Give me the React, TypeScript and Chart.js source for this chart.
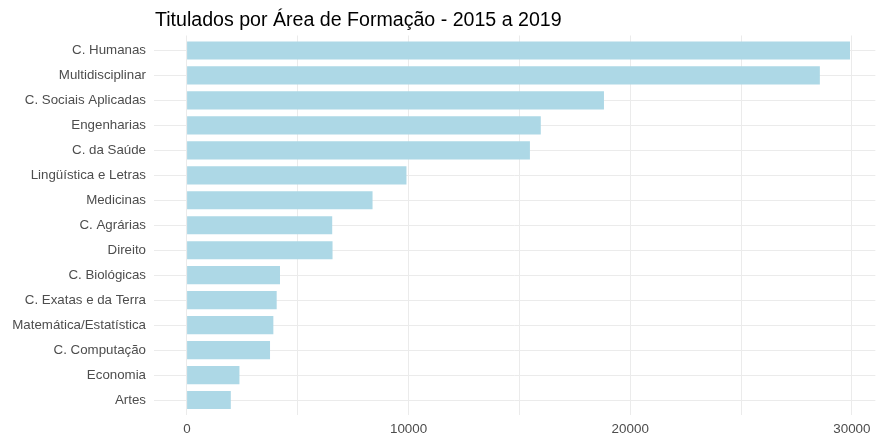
import React, { useEffect, useRef } from "react";
import { Chart, registerables } from "chart.js";

Chart.register(...registerables);

const TITLE = "Titulados por Área de Formação - 2015 a 2019";

const categories: string[] = [
  "C. Humanas",
  "Multidisciplinar",
  "C. Sociais Aplicadas",
  "Engenharias",
  "C. da Saúde",
  "Lingüística e Letras",
  "Medicinas",
  "C. Agrárias",
  "Direito",
  "C. Biológicas",
  "C. Exatas e da Terra",
  "Matemática/Estatística",
  "C. Computação",
  "Economia",
  "Artes",
];

const titulados: number[] = [
  29900, 28540, 18800, 15950, 15460, 9890, 8360, 6540, 6555, 4185, 4035, 3885,
  3735, 2355, 1965,
];

const xTickLabels: number[] = [0, 10000, 20000, 30000];

const FONT = "'Liberation Sans', Arial, sans-serif";

export default function App() {
  const ref = useRef<HTMLCanvasElement | null>(null);

  useEffect(() => {
    document.body.style.margin = "0";
    const canvas = ref.current;
    if (!canvas) return;

    const titlePlugin = {
      id: "ggTitle",
      afterDraw(chart: any) {
        const ctx = chart.ctx;
        ctx.save();
        ctx.font = `19.6px ${FONT}`;
        ctx.fillStyle = "#000000";
        ctx.textAlign = "left";
        ctx.textBaseline = "alphabetic";
        ctx.fillText(TITLE, chart.chartArea.left + 1, 26);
        ctx.restore();
      },
    };

    const chart = new Chart(canvas, {
      type: "bar",
      data: {
        datasets: [
          {
            label: "Titulados",
            data: titulados.map((v, i) => ({ x: v, y: i })),
            backgroundColor: "#ADD8E6",
            borderWidth: 0,
            barThickness: 17.5,
          },
        ],
      },
      options: {
        indexAxis: "y",
        animation: false,
        responsive: false,
        maintainAspectRatio: false,
        layout: { padding: { top: 35.5, right: 0, bottom: 0, left: 0 } },
        plugins: {
          legend: { display: false },
          title: { display: false },
          tooltip: { enabled: false },
        },
        scales: {
          x: {
            type: "linear",
            bounds: "data",
            offset: false,
            min: -1485,
            max: 31060,
            afterFit(scale: any) {
              scale.height = 22;
            },
            afterBuildTicks(scale: any) {
              const t: any[] = [];
              for (let v = 0; v <= 30000; v += 5000) t.push({ value: v });
              scale.ticks = t;
            },
            ticks: {
              includeBounds: false,
              autoSkip: false,
              maxRotation: 0,
              padding: 6.5,
              color: "#4D4D4D",
              font: { family: FONT, size: 13.4 },
              callback: (v: any) =>
                xTickLabels.includes(Number(v)) ? String(v) : "",
            },
            grid: {
              offset: false,
              color: "#EBEBEB",
              lineWidth: 1,
              drawTicks: false,
            },
            border: { display: false },
          },
          y: {
            type: "linear",
            bounds: "data",
            offset: false,
            min: -0.6,
            max: categories.length - 1 + 0.6,
            reverse: true,
            afterFit(scale: any) {
              scale.width = 154;
            },
            afterBuildTicks(scale: any) {
              scale.ticks = categories.map((_, i) => ({ value: i }));
            },
            ticks: {
              includeBounds: false,
              autoSkip: false,
              padding: 8,
              color: "#4D4D4D",
              font: { family: FONT, size: 13.3 },
              callback: (v: any) => categories[Number(v)] ?? "",
            },
            grid: {
              offset: false,
              color: "#EBEBEB",
              lineWidth: 1,
              drawTicks: false,
            },
            border: { display: false },
          },
        },
      },
      plugins: [titlePlugin],
    } as any);

    return () => chart.destroy();
  }, []);

  return (
    <div style={{ width: 877, height: 437, position: "relative" }}>
      <canvas ref={ref} width={877} height={437} style={{ display: "block" }} />
    </div>
  );
}
